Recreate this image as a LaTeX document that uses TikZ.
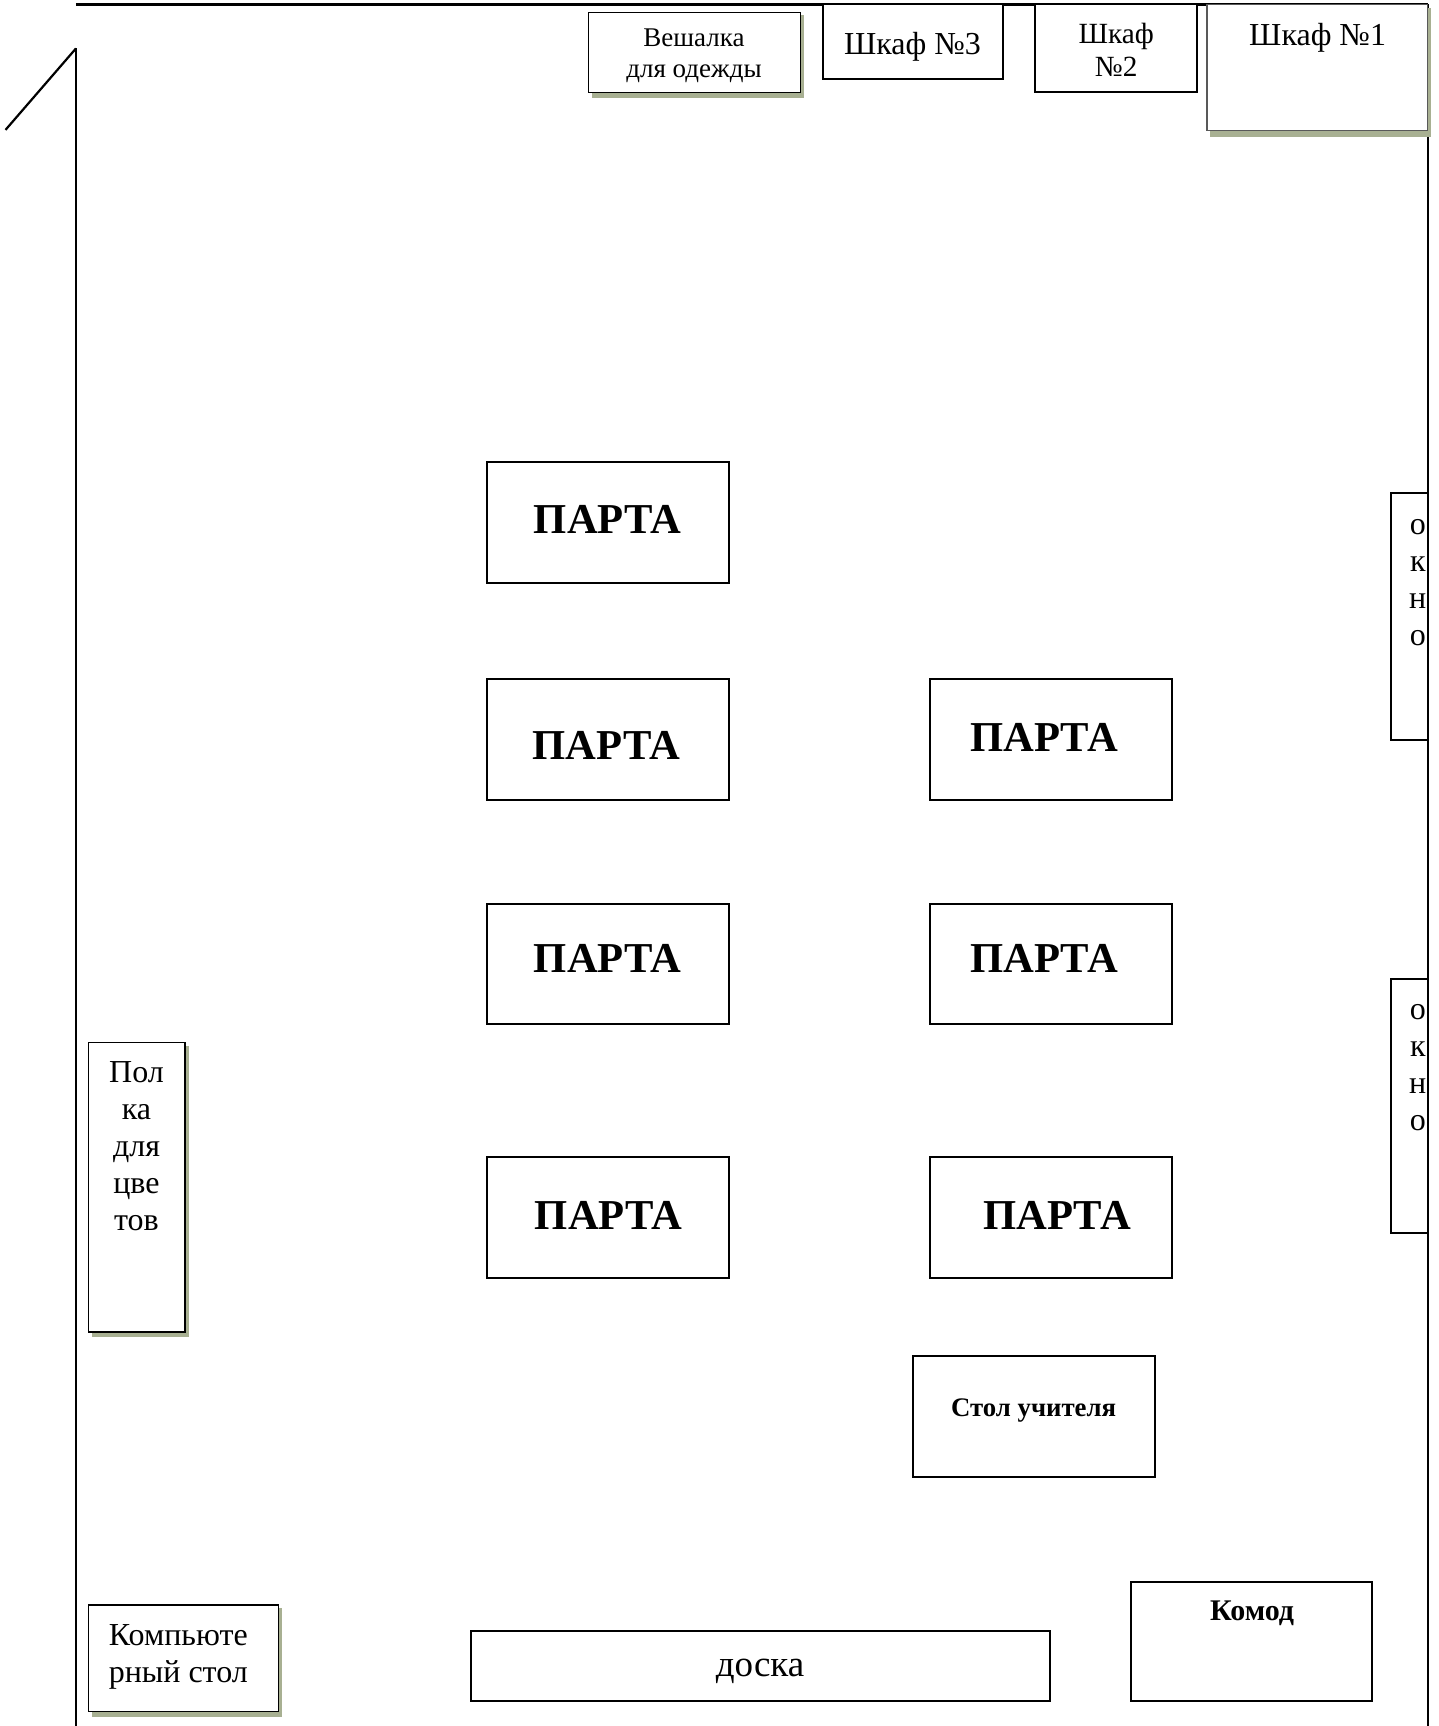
\documentclass[tikz,border=0pt]{standalone}
\usepackage{fontspec}
\setmainfont{Liberation Serif}
\definecolor{shadowc}{HTML}{A8B092}
\newcommand{\sizeA}{\fontsize{42.6}{46}\selectfont\bfseries}
\newcommand{\sizeB}{\fontsize{32}{37}\selectfont}
\newcommand{\sizeC}{\fontsize{27}{31}\selectfont}
\tikzset{
  x=1.1008pt,y=-1.1008pt,
  wall/.style={draw=black,line width=2.2pt},
  box/.style={draw=black,fill=white,line width=2pt},
  shbox/.style={draw=black,fill=white,line width=1.2pt},
  shade box/.style={fill=shadowc,draw=none},
  big/.style={font=\sizeA,inner sep=0pt},
  mid/.style={font=\sizeB,inner sep=0pt,align=center},
  small/.style={font=\sizeC,inner sep=0pt,align=center}
}
\begin{document}
\begin{tikzpicture}
\useasboundingbox (0,0) rectangle (1307.2,1568);
% walls
\coordinate (tl) at (69,4); \coordinate (tr) at (1297,4);
\coordinate (bl) at (69,1568); \coordinate (br) at (1297,1568);
\coordinate (dh) at (69,44); \coordinate (dd) at (5,118);
\draw[wall] (tl) -- (tr);
\draw[wall] (dh) -- (bl);
\draw[wall] (dh) -- (dd);
\draw[line width=1.6pt] (tr) -- (br);
% shadowed boxes
\fill[shade box] (537.5,14) rectangle (730,89);
\draw[shbox] (534.7,11) rectangle (727,84);
\node[small] (veshalka) at (630.5,50.5) {Вешалка\\для одежды};
\fill[shade box] (1099,7) rectangle (1300,124);
\draw[shbox,draw=black!65] (1096.5,4) rectangle (1297,118.5);
\node[mid] (sh1) at (1197,34) {Шкаф №1};
\fill[shade box] (83.5,950) rectangle (171.5,1215);
\draw[shbox] (80.5,947) rectangle (168,1210);
\node[mid,anchor=north] (polka) at (124,964) {Пол\\ка\\для\\цве\\тов};
\fill[shade box] (83.5,1461) rectangle (256.5,1560);
\draw[shbox] (80.5,1458) rectangle (253,1555);
\node[mid] (komp) at (162,1505.5) {Компьюте\\рный стол};
% plain boxes
\draw[box] (747.5,4) rectangle (911,71.5);
\node[mid] (sh3) at (829,42.5) {Шкаф №3};
\draw[box] (940,4) rectangle (1087,84);
\node[font=\fontsize{29.3}{33}\selectfont,inner sep=0pt,align=center] (sh2) at (1014,45) {Шкаф\\№2};
\draw[box] (442.5,420) rectangle (662,529.5);
\node[big] (p1) at (552,472) {ПАРТА};
\draw[box] (442.5,617) rectangle (662,726.5);
\node[big] (p2) at (551,677) {ПАРТА};
\draw[box] (442.5,821) rectangle (662,930);
\node[big] (p3) at (552,871) {ПАРТА};
\draw[box] (442.5,1051) rectangle (662,1161);
\node[big] (p4) at (553,1104) {ПАРТА};
\draw[box] (844.8,617) rectangle (1064.5,726.5);
\node[big] (p5) at (948.5,670) {ПАРТА};
\draw[box] (844.8,821) rectangle (1064.5,930);
\node[big] (p6) at (948.5,871) {ПАРТА};
\draw[box] (844.8,1051) rectangle (1064.5,1161);
\node[big] (p7) at (960.5,1104) {ПАРТА};
\draw[box] (829.5,1232) rectangle (1049,1342);
\node[font=\fontsize{26.8}{30}\selectfont\bfseries,inner sep=0pt] (teacher) at (939,1281.5) {Стол учителя};
\draw[box] (1027.3,1437.5) rectangle (1246,1545);
\node[font=\fontsize{30}{33}\selectfont\bfseries,inner sep=0pt] (komod) at (1137.5,1466) {Комод};
\draw[box] (427.5,1481.5) rectangle (954,1545);
\node[font=\fontsize{37}{40}\selectfont,inner sep=0pt] (doska) at (690.5,1518) {доска};
% windows
\draw[box] (1264,448) rectangle (1297,672);
\node[mid,anchor=north] (w1) at (1288,472) {о\\к\\н\\о};
\draw[box] (1264,889) rectangle (1297,1120);
\node[mid,anchor=north] (w2) at (1288,912) {о\\к\\н\\о};
\end{tikzpicture}
\end{document}
